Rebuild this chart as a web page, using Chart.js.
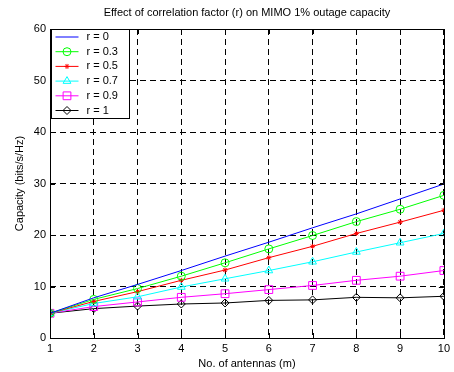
<!DOCTYPE html>
<html>
<head>
<meta charset="utf-8">
<script src="https://cdn.jsdelivr.net/npm/chart.js"></script>
<style>
  html, body { margin: 0; padding: 0; background: #fff; }
  #wrap { width: 454px; height: 372px; }
</style>
</head>
<body>
<div id="wrap"><canvas id="capChart" width="454" height="372"></canvas></div>
<script>
// number of antennas (m)
var antennas = [1, 2, 3, 4, 5, 6, 7, 8, 9, 10];

// 1% outage capacity (bits/s/Hz) for each correlation factor
var capR0  = [4.8, 7.8, 10.4, 13.1, 15.9, 18.6, 21.4, 24.1, 27.0, 29.9];
var capR03 = [4.8, 7.5, 9.6, 12.0, 14.6, 17.3, 19.9, 22.6, 25.0, 27.7];
var capR05 = [4.8, 7.1, 9.0, 11.2, 13.2, 15.6, 17.8, 20.3, 22.5, 24.8];
var capR07 = [4.8, 6.7, 8.0, 9.9, 11.5, 13.1, 14.8, 16.7, 18.5, 20.3];
var capR09 = [4.8, 6.1, 7.0, 7.9, 8.6, 9.4, 10.2, 11.2, 12.0, 13.1];
var capR1  = [4.8, 5.7, 6.2, 6.6, 6.8, 7.3, 7.4, 7.9, 7.8, 8.1];

var seriesNames = ['r = 0', 'r = 0.3', 'r = 0.5', 'r = 0.7', 'r = 0.9', 'r = 1'];
var yTicks = [0, 10, 20, 30, 40, 50, 60];

var FONT = 'Liberation Sans, Arial, sans-serif';

function pts(ys) {
  return antennas.map(function (m, i) { return { x: m, y: ys[i] }; });
}

function series(label, ys, color, style, radius) {
  return {
    label: label,
    data: pts(ys),
    borderColor: color,
    backgroundColor: color,
    borderWidth: 1,
    pointStyle: style,
    pointRadius: style ? radius : 0,
    pointBorderColor: color,
    pointBackgroundColor: 'rgba(0,0,0,0)',
    pointBorderWidth: 1,
    tension: 0
  };
}

// draws a marker like the ones on the lines, for the legend
function marker(ctx, style, x, y, r) {
  ctx.beginPath();
  if (style === 'circle') {
    ctx.arc(x, y, r, 0, Math.PI * 2);
  } else if (style === 'star') {
    ctx.moveTo(x - r, y); ctx.lineTo(x + r, y);
    ctx.moveTo(x, y - r); ctx.lineTo(x, y + r);
    var d = r * Math.SQRT1_2;
    ctx.moveTo(x - d, y - d); ctx.lineTo(x + d, y + d);
    ctx.moveTo(x - d, y + d); ctx.lineTo(x + d, y - d);
  } else if (style === 'triangle') {
    ctx.moveTo(x, y - r);
    ctx.lineTo(x + r * 0.866, y + r * 0.5);
    ctx.lineTo(x - r * 0.866, y + r * 0.5);
    ctx.closePath();
  } else if (style === 'rect') {
    var s = r * Math.SQRT1_2;
    ctx.rect(x - s, y - s, 2 * s, 2 * s);
  } else if (style === 'rectRot') {
    ctx.moveTo(x, y - r); ctx.lineTo(x + r, y);
    ctx.lineTo(x, y + r); ctx.lineTo(x - r, y);
    ctx.closePath();
  }
  ctx.stroke();
}

// axes box, inward ticks and the legend in the upper-left corner
var axesFrame = {
  id: 'axesFrame',
  afterDatasetsDraw: function (chart) {
    var ctx = chart.ctx, a = chart.chartArea;
    var xs = chart.scales.x, ys = chart.scales.y;
    ctx.save();
    ctx.strokeStyle = '#000';
    ctx.lineWidth = 1;
    ctx.setLineDash([]);
    ctx.strokeRect(Math.round(a.left) + 0.5, Math.round(a.top) + 0.5,
      Math.round(a.right - a.left), Math.round(a.bottom - a.top));
    ctx.beginPath();
    antennas.forEach(function (m) {
      var px = Math.round(xs.getPixelForValue(m)) + 0.5;
      ctx.moveTo(px, a.bottom); ctx.lineTo(px, a.bottom - 5);
      ctx.moveTo(px, a.top); ctx.lineTo(px, a.top + 5);
    });
    yTicks.forEach(function (v) {
      var py = Math.round(ys.getPixelForValue(v)) + 0.5;
      ctx.moveTo(a.left, py); ctx.lineTo(a.left + 5, py);
      ctx.moveTo(a.right, py); ctx.lineTo(a.right - 5, py);
    });
    ctx.stroke();

    // legend
    var lx = Math.round(a.left) + 1.5, ly = Math.round(a.top) + 0.5;
    var lw = 78, lh = 89, step = 14.7;
    ctx.fillStyle = '#fff';
    ctx.fillRect(lx, ly, lw, lh);
    ctx.strokeRect(lx, ly, lw, lh);
    ctx.font = '11px ' + FONT;
    ctx.textBaseline = 'middle';
    ctx.textAlign = 'left';
    chart.data.datasets.forEach(function (ds, i) {
      var cy = ly + 7.5 + i * step;
      ctx.strokeStyle = ds.borderColor;
      ctx.beginPath();
      ctx.moveTo(lx + 4, cy); ctx.lineTo(lx + 27, cy);
      ctx.stroke();
      if (ds.pointRadius) marker(ctx, ds.pointStyle, lx + 15.5, cy, ds.pointRadius);
      ctx.fillStyle = '#000';
      ctx.fillText(ds.label, lx + 35, cy);
    });
    ctx.restore();
  }
};

var ctx = document.getElementById('capChart').getContext('2d');
var chart = new Chart(ctx, {
  type: 'line',
  data: {
    datasets: [
      series(seriesNames[0], capR0, '#0000ff', false, 0),
      series(seriesNames[1], capR03, '#00ff00', 'circle', 4),
      series(seriesNames[2], capR05, '#ff0000', 'star', 2.5),
      series(seriesNames[3], capR07, '#00ffff', 'triangle', 4.5),
      series(seriesNames[4], capR09, '#ff00ff', 'rect', 5.5),
      series(seriesNames[5], capR1, '#000000', 'rectRot', 4)
    ]
  },
  options: {
    responsive: false,
    animation: false,
    layout: { padding: { top: 29, right: 8, left: 0, bottom: 0 } },
    plugins: {
      legend: { display: false },
      tooltip: { enabled: false },
      title: { display: false }
    },
    scales: {
      x: {
        type: 'linear',
        min: 1,
        max: 10,
        afterFit: function (s) { s.height = 34; },
        afterBuildTicks: function (s) { s.ticks = antennas.map(function (v) { return { value: v }; }); },
        ticks: { color: '#000', font: { family: FONT, size: 11 }, padding: 4, maxRotation: 0 },
        grid: { color: '#000', drawTicks: false, lineWidth: 1 },
        border: { display: false, dash: [6, 4] },
        title: {
          display: true, text: 'No. of antennas (m)', color: '#000',
          font: { family: FONT, size: 11 }, padding: { top: 0, bottom: 1 }
        }
      },
      y: {
        min: 0,
        max: 60,
        afterFit: function (s) { s.width = 50; },
        afterBuildTicks: function (s) { s.ticks = yTicks.map(function (v) { return { value: v }; }); },
        ticks: { color: '#000', font: { family: FONT, size: 11 }, padding: 4 },
        grid: { color: '#000', drawTicks: false, lineWidth: 1 },
        border: { display: false, dash: [6, 4] },
        title: {
          display: true, text: 'Capacity (bits/s/Hz)', color: '#000',
          font: { family: FONT, size: 11 }, padding: { top: 13, bottom: 0 }
        }
      }
    }
  },
  plugins: [axesFrame, {
    id: 'topTitle',
    afterDraw: function (chart) {
      var c = chart.ctx, a = chart.chartArea;
      c.save();
      c.font = '11px ' + FONT;
      c.fillStyle = '#000';
      c.textAlign = 'center';
      c.textBaseline = 'middle';
      c.fillText('Effect of correlation factor (r) on MIMO 1% outage capacity', (a.left + a.right) / 2, 13);
      c.restore();
    }
  }]
});
</script>
</body>
</html>
